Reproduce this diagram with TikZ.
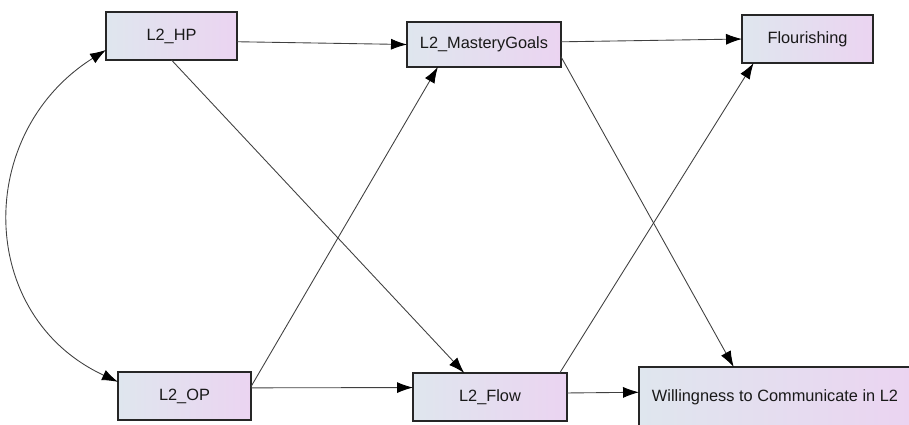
\documentclass[tikz,border=0pt]{standalone}
\usepackage{fontspec}
\setsansfont{Liberation Sans}
\usetikzlibrary{arrows.meta}
\definecolor{boxleft}{HTML}{DFE6EE}
\definecolor{boxright}{HTML}{EBD4F1}
\definecolor{linegray}{HTML}{404040}
\begin{document}
\begin{tikzpicture}[x=0.02cm,y=-0.02cm,
    var/.style={draw=black!85,line width=0.9pt,left color=boxleft,right color=boxright,
      outer sep=0pt,inner sep=2pt,font=\sffamily\fontsize{9.3}{11}\selectfont,text=black!90},
    path/.style={draw=linegray,line width=0.5pt,-{Latex[length=3.2mm,width=2.2mm,black]}},
    cov/.style={draw=linegray,line width=0.5pt,{Latex[length=3.2mm,width=2.2mm,black]}-{Latex[length=3.2mm,width=2.2mm,black]}}]
  \useasboundingbox (0,0) rectangle (909,424);
  \clip (0,0) rectangle (909,424);
  %variables
  \node[var,minimum width=2.62cm,minimum height=0.96cm] (hp) at (171.5,36) {L2\_HP};
  \node[var,minimum width=2.66cm,minimum height=0.96cm] (op) at (184.5,396) {L2\_OP};
  \node[var,minimum width=3.08cm,minimum height=0.90cm] (mg) at (484,44.5) {L2\_MasteryGoals};
  \node[var,minimum width=3.08cm,minimum height=0.96cm] (flow) at (490,397) {L2\_Flow};
  \node[var,minimum width=2.62cm,minimum height=0.96cm] (flour) at (807.5,39) {Flourishing};
  \node[var,minimum width=5.44cm,minimum height=1.2cm] (wtc) at (775,397) {Willingness to Communicate in L2};
  %covariance
  \draw[cov] (hp.192) .. controls (-26,133) and (-24,316) .. (op.168);
  %paths
  \draw[path] (hp.-5) -- (mg.west);
  \draw[path] (hp.south) -- (flow.137);
  \draw[path] (op.8) -- (mg.206);
  \draw[path] (op.7) -- (flow.173);
  \draw[path] (mg.2) -- (flour.west);
  \draw[path] (mg.-9) -- (wtc.144);
  \draw[path] (flow.19) -- (flour.204);
  \draw[path] (flow.3) -- (wtc.178);
\end{tikzpicture}
\end{document}
